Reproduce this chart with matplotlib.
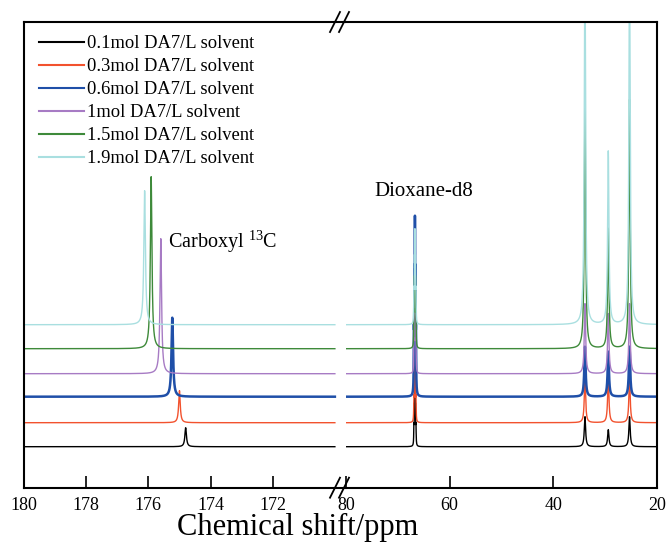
import matplotlib
matplotlib.use("Agg")
import matplotlib.pyplot as plt
import numpy as np
from matplotlib.lines import Line2D

plt.rcParams["font.family"] = ["Liberation Serif", "DejaVu Serif"]
plt.rcParams["mathtext.fontset"] = "custom"
plt.rcParams["mathtext.rm"] = "Liberation Serif"

# ── Data ──────────────────────────────────────────────────────────────────────
LABELS = [
    "0.1mol DA7/L solvent",
    "0.3mol DA7/L solvent",
    "0.6mol DA7/L solvent",
    "1mol DA7/L solvent",
    "1.5mol DA7/L solvent",
    "1.9mol DA7/L solvent",
]
COLORS = ["#000000", "#f2522e", "#1f4fa8", "#a77bc4", "#3e8a3a", "#a9dfe0"]

# vertical stacking offset of each spectrum
OFFSETS = [41, 65, 91, 114, 139, 163]

# carboxyl 13C peak (ppm) and intensity
CARBOXYL_PPM = [174.80, 175.00, 175.23, 175.60, 175.91, 176.12]
CARBOXYL_INT = [19, 32, 79, 135, 172, 134]

# dioxane-d8 reference quintet
DIOXANE_PPM = [66.7, 66.7, 66.7, 66.7, 66.7, 66.7]
DIOXANE_INT = [60, 70, 181, 90, 100, 96]
DIOXANE_J = 0.1
DIOXANE_WEIGHTS = [1, 2, 3, 2, 1]

# solvent resonances
SOLVENT_PPM = [33.9, 29.4, 25.3]
SOLVENT_INT = [
    [30, 17, 30],
    [45, 45, 45],
    [50, 45, 50],
    [70, 60, 70],
    [252, 120, 249],
    [360, 173, 360],
]

LEFT_RANGE = (180.0, 170.0)
RIGHT_RANGE = (80.0, 20.0)


def lorentz(x, x0, h, w):
    return h * w**2 / ((x - x0) ** 2 + w**2)


def left_spectrum(x, i):
    return OFFSETS[i] + lorentz(x, CARBOXYL_PPM[i], CARBOXYL_INT[i], 0.03)


def right_spectrum(x, i):
    # quintet, scaled so its tallest point equals the listed intensity
    quint = np.zeros_like(x)
    k = np.arange(len(DIOXANE_WEIGHTS)) - len(DIOXANE_WEIGHTS) // 2
    for wt, n in zip(DIOXANE_WEIGHTS, k):
        quint += lorentz(x, DIOXANE_PPM[i] + n * DIOXANE_J, wt, 0.04)
    y = OFFSETS[i] + quint / quint.max() * DIOXANE_INT[i]
    for ppm, h in zip(SOLVENT_PPM, SOLVENT_INT[i]):
        y += lorentz(x, ppm, h, 0.15)
    return y


# ── Figure ────────────────────────────────────────────────────────────────────
W, H = 667, 543
fig = plt.figure(figsize=(W / 100, H / 100), dpi=100)

x0, xb, x1 = 24, 346, 657
ybot, ytop = 487.7, 22
bottom = (H - ybot) / H
height = (ybot - ytop) / H
axL = fig.add_axes([x0 / W, bottom, (xb - x0) / W, height])
axR = fig.add_axes([xb / W, bottom, (x1 - xb) / W, height])

px_per_ppm = (272.7 - 24) / 8
left_lim = (180.0, 180.0 - (xb - x0) / px_per_ppm)

xl = np.linspace(LEFT_RANGE[0], LEFT_RANGE[1], 20000)
xr = np.linspace(RIGHT_RANGE[0], RIGHT_RANGE[1], 40000)

for i, (lab, col) in enumerate(zip(LABELS, COLORS)):
    lw = 1.8 if i == 2 else 1.0
    axL.plot(xl, left_spectrum(xl, i), color=col, lw=lw, label=lab)
    axR.plot(xr, right_spectrum(xr, i), color=col, lw=lw)

ymax = ybot - ytop
for ax in (axL, axR):
    ax.set_ylim(0, ymax)
    ax.set_yticks([])
    ax.tick_params(axis="x", direction="in", length=9, width=1.2,
                   labelsize=13, pad=6.5)
    for s in ax.spines.values():
        s.set_linewidth(1.5)

axL.set_xlim(*left_lim)
axL.set_xticks([180, 178, 176, 174, 172])
axL.spines["right"].set_visible(False)

axR.set_xlim(*RIGHT_RANGE)
axR.set_xticks([80, 60, 40, 20])
axR.spines["left"].set_visible(False)

# break marks on the top and bottom frame
for yc in (ybot, ytop):
    for xc in (335, 344):
        fig.add_artist(Line2D([(xc - 5) / W, (xc + 5) / W],
                              [(H - yc - 10) / H, (H - yc + 10) / H],
                              transform=fig.transFigure, color="black",
                              lw=1.3, clip_on=False))

axR.text(65, ybot - 192, "Dioxane-d8", fontsize=15, ha="center", va="center")
axL.text(175.37, ybot - 242, "Carboxyl $^{13}$C", fontsize=14.5,
         ha="left", va="center")

fig.text(298 / W, 0.5 / H, "Chemical shift/ppm", fontsize=22,
         ha="center", va="bottom")

leg = axL.legend(loc="upper left", bbox_to_anchor=(39 / W, 1 - 35 / H),
                 bbox_transform=fig.transFigure, frameon=False, fontsize=13.3,
                 handlelength=2.45, handletextpad=0.15, labelspacing=0.33,
                 borderpad=0, borderaxespad=0)
for h in leg.legend_handles:
    h.set_linewidth(1.5)

fig.savefig("out.png", dpi=100)
